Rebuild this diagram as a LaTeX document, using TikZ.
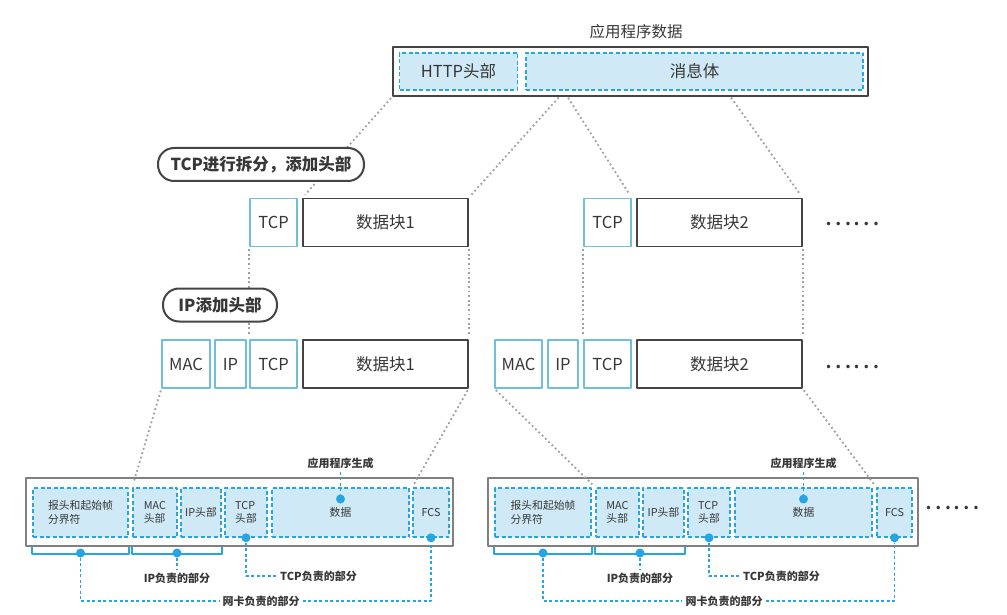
\documentclass[tikz,border=0pt]{standalone}
\usepackage{fontspec}
\setmainfont{Noto Sans CJK SC}
\usetikzlibrary{calc}
\definecolor{lanbg}{RGB}{207,234,246}
\definecolor{lanx}{RGB}{38,166,224}
\definecolor{hdrc}{RGB}{110,190,220}
\definecolor{huid}{RGB}{68,68,68}
\definecolor{huix}{RGB}{160,160,160}
\definecolor{zi}{RGB}{55,55,55}
\begin{document}
\begin{tikzpicture}[x=1pt,y=-1pt,line join=round,text=zi,
	hdr/.style={draw=hdrc,line width=1.3pt,minimum height=48pt,inner sep=0pt,font=\fontsize{16.5}{18}\selectfont},
	blk/.style={draw=huid,line width=1.3pt,minimum height=48pt,inner sep=0pt,font=\fontsize{16.5}{18}\selectfont},
	seg/.style={draw=lanx,fill=lanbg,dash pattern=on 4pt off 2.5pt,line width=1.6pt,minimum height=49pt,inner sep=0pt,font=\fontsize{10.8}{13.5}\selectfont,align=left},
	frm/.style={draw=gray,line width=1.2pt,minimum height=68pt,inner sep=0pt},
	pill/.style={draw=huid,fill=white,line width=2pt,rounded corners=16pt,minimum height=33pt,font=\bfseries\fontsize{16.5}{18}\selectfont},
	lian/.style={huix,line width=1.8pt,dash pattern=on 1.8pt off 2.8pt,shorten <=2pt,shorten >=4pt},
	biao/.style={lanx,line width=1.5pt,dash pattern=on 3pt off 2.5pt},
	kuo/.style={lanx,line width=2pt},
	zhu/.style={font=\bfseries\fontsize{11}{12}\selectfont,inner sep=3pt},
	dian/.style={circle,fill=lanx,inner sep=0pt,minimum size=9pt},
	sheng/.style={font=\fontsize{26}{26}\selectfont,inner sep=0pt}]
\useasboundingbox (0,0) rectangle (1007,615);

% application data
\node[font=\fontsize{15.5}{18}\selectfont] (title) at (636,32) {应用程序数据};
\node[draw=huid,line width=1.3pt,minimum width=475pt,minimum height=49pt] (app) at (630.5,71.5) {};
\node[seg,minimum width=118pt,minimum height=37pt,font=\fontsize{16.5}{18}\selectfont] (http) at (458.5,71.5) {HTTP头部};
\node[seg,minimum width=337pt,minimum height=37pt,font=\fontsize{16.5}{18}\selectfont] (body) at (694.5,71.5) {消息体};
\coordinate (s1) at (560,96);
\coordinate (s2) at (567,96);
\coordinate (s3) at (730,96);

% TCP
\node[hdr,minimum width=47pt] (tcpa) at (273.5,222.5) {TCP};
\node[blk,minimum width=165pt] (d1a) at (385.5,222.5) {数据块1};
\node[hdr,minimum width=47pt] (tcpb) at (607.5,222.5) {TCP};
\node[blk,minimum width=165pt] (d2a) at (719.5,222.5) {数据块2};
\node[sheng] (etc1) at (852,224) {……};

% IP + MAC
\node[hdr,minimum width=48pt] (maca) at (186,364) {MAC};
\node[hdr,minimum width=31pt] (ipa) at (230.5,364) {IP};
\node[hdr,minimum width=47pt] (tcpa2) at (273.5,364) {TCP};
\node[blk,minimum width=165pt] (d1b) at (385.5,364) {数据块1};
\node[hdr,minimum width=47pt] (macb) at (518.5,364) {MAC};
\node[hdr,minimum width=30pt] (ipb) at (563,364) {IP};
\node[hdr,minimum width=47pt] (tcpb2) at (607.5,364) {TCP};
\node[blk,minimum width=165pt] (d2b) at (719.5,364) {数据块2};
\node[sheng] (etc2) at (852,367) {……};

% frames
\node[frm,minimum width=427pt] (zhenA) at (239.5,512) {};
\node[seg,minimum width=95pt] (bt1) at (80.5,512.5) {报头和起始帧\\分界符};
\node[seg,minimum width=44pt] (mac1) at (155,512.5) {MAC\\头部};
\node[seg,minimum width=40pt] (ip1) at (201,512.5) {IP头部};
\node[seg,minimum width=42pt] (tcp1) at (246,512.5) {TCP\\头部};
\node[seg,minimum width=137pt] (sj1) at (340.5,512.5) {数据};
\node[seg,minimum width=36pt] (fcs1) at (431,512.5) {FCS};

\node[frm,minimum width=430pt] (zhenB) at (703,512) {};
\node[seg,minimum width=96pt] (bt2) at (543,512.5) {报头和起始帧\\分界符};
\node[seg,minimum width=43pt] (mac2) at (617.5,512.5) {MAC\\头部};
\node[seg,minimum width=41pt] (ip2) at (663.5,512.5) {IP头部};
\node[seg,minimum width=42pt] (tcp2) at (709,512.5) {TCP\\头部};
\node[seg,minimum width=137pt] (sj2) at (803.5,512.5) {数据};
\node[seg,minimum width=35pt] (fcs2) at (894.5,512.5) {FCS};
\node[sheng] (etc3) at (952,508) {……};

% grey links
\draw[lian] (app.south west) -- (d1a.north west);
\draw[lian] (s1) -- (d1a.north east);
\draw[lian] (s2) -- (tcpb.north east);
\draw[lian] (s3) -- (d2a.north east);
\draw[lian] (tcpa.south west) -- (tcpa2.north west);
\draw[lian] (d1a.south east) -- (d1b.north east);
\draw[lian] (tcpb.south west) -- (tcpb2.north west);
\draw[lian] (d2a.south east) -- (d2b.north east);
\draw[lian] (maca.south west) -- (mac1.north west);
\draw[lian] (d1b.south east) -- (fcs1.north west);
\draw[lian] (macb.south west) -- (mac2.north west);
\draw[lian] (d2b.south east) -- (fcs2.north west);

\node[pill,minimum width=206pt] (fen) at (261,164.5) {TCP进行拆分，添加头部};
\node[pill,minimum width=114pt] (jia) at (220,305) {IP添加头部};

% left notes
\draw[kuo] (bt1.south west |- zhenA.south) -- ++(0,7) -| (bt1.south east |- zhenA.south);
\draw[kuo] (mac1.south west |- zhenA.south) -- ++(0,7) -| (ip1.south east |- zhenA.south);
\node[dian] (k1) at (80.5,553) {};
\node[dian] (k2) at (177,553) {};
\node[dian] (t1) at (tcp1.south) {};
\node[dian] (f1) at (fcs1.south) {};
\node[dian] (a1) at (340.5,499) {};
\node[zhu] (yy1) at (340.5,463) {应用程序生成};
\node[zhu] (ipz1) at (177,578) {IP负责的部分};
\node[zhu,anchor=west] (tz1) at (277,576) {TCP负责的部分};
\node[zhu] (wk1) at (261,601) {网卡负责的部分};
\draw[biao] (yy1) -- (a1);
\draw[biao] (k2) -- (ipz1);
\draw[biao] (t1) |- (tz1.west);
\draw[biao] (k1) |- (wk1.west);
\draw[biao] (wk1.east) -| (f1);

% right notes
\draw[kuo] (bt2.south west |- zhenB.south) -- ++(0,7) -| (bt2.south east |- zhenB.south);
\draw[kuo] (mac2.south west |- zhenB.south) -- ++(0,7) -| (ip2.south east |- zhenB.south);
\node[dian] (k3) at (543,553) {};
\node[dian] (k4) at (640,553) {};
\node[dian] (t2) at (tcp2.south) {};
\node[dian] (f2) at (fcs2.south) {};
\node[dian] (a2) at (803.5,499) {};
\node[zhu] (yy2) at (803.5,463) {应用程序生成};
\node[zhu] (ipz2) at (640,578) {IP负责的部分};
\node[zhu,anchor=west] (tz2) at (740,576) {TCP负责的部分};
\node[zhu] (wk2) at (724,601) {网卡负责的部分};
\draw[biao] (yy2) -- (a2);
\draw[biao] (k4) -- (ipz2);
\draw[biao] (t2) |- (tz2.west);
\draw[biao] (k3) |- (wk2.west);
\draw[biao] (wk2.east) -| (f2);
\end{tikzpicture}
\end{document}
